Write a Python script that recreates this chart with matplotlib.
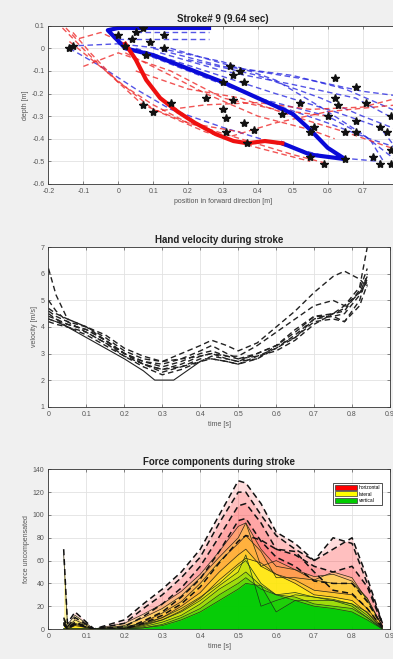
import numpy as np
import matplotlib
matplotlib.use("Agg")
import matplotlib.pyplot as plt
from matplotlib.patches import Patch

plt.rcParams['font.family'] = ['Liberation Sans', 'DejaVu Sans']
plt.rcParams['axes.unicode_minus'] = False

# ---------- stroke path (top) ----------
red_x = [0.02, 0.05, 0.08, 0.12, 0.17, 0.22, 0.28, 0.33, 0.37, 0.42, 0.47]
red_y = [0.02, -0.05, -0.14, -0.22, -0.28, -0.33, -0.38, -0.41, -0.42, -0.41, -0.42]
blue_x = [0.47, 0.55, 0.65, 0.60, 0.55, 0.50, 0.40, 0.30, 0.20, 0.10, 0.02, -0.03, 0.00, 0.10, 0.26]
blue_y = [-0.42, -0.47, -0.49, -0.44, -0.36, -0.29, -0.22, -0.15, -0.09, -0.03, 0.00, 0.08, 0.09, 0.09, 0.09]

blue_dash = [
    ([0.10, 0.30, 0.50, 0.65, 0.80], [0.00, -0.08, -0.12, -0.18, -0.28]),
    ([0.12, 0.30, 0.50, 0.68, 0.80], [-0.02, -0.10, -0.16, -0.22, -0.32]),
    ([0.05, 0.25, 0.45, 0.62, 0.75, 0.80], [0.00, -0.10, -0.20, -0.28, -0.35, -0.45]),
    ([0.00, 0.20, 0.40, 0.60, 0.72, 0.76], [0.02, -0.10, -0.22, -0.30, -0.40, -0.50]),
    ([0.15, 0.35, 0.55, 0.70, 0.80], [0.00, -0.09, -0.14, -0.19, -0.21]),
    ([-0.14, -0.05, 0.05, 0.15, 0.30, 0.45, 0.60, 0.75], [0.00, -0.08, -0.18, -0.27, -0.35, -0.42, -0.48, -0.50]),
    ([-0.14, 0.00, 0.12, 0.30, 0.45, 0.58, 0.70, 0.80], [0.01, 0.02, 0.00, -0.06, -0.14, -0.26, -0.38, -0.50]),
    ([0.05, 0.26], [0.07, 0.07]),
    ([0.00, 0.26], [0.04, 0.04]),
    ([0.30, 0.45, 0.60, 0.72, 0.80], [-0.15, -0.25, -0.33, -0.40, -0.44]),
    ([0.20, 0.40, 0.58, 0.70, 0.80], [-0.05, -0.12, -0.22, -0.30, -0.36]),
]
red_dash = [
    ([-0.16, -0.05, 0.07, 0.20, 0.35, 0.50, 0.60], [0.09, -0.08, -0.25, -0.33, -0.40, -0.47, -0.51]),
    ([-0.14, -0.02, 0.10, 0.25, 0.40, 0.55], [0.03, -0.12, -0.27, -0.37, -0.44, -0.50]),
    ([-0.13, -0.08, 0.00, 0.10, 0.20, 0.35], [0.07, -0.02, -0.15, -0.25, -0.33, -0.37]),
    ([0.10, 0.25, 0.40, 0.55, 0.70, 0.80], [-0.28, -0.25, -0.24, -0.27, -0.26, -0.22]),
    ([0.05, 0.20, 0.35, 0.50, 0.65, 0.80], [-0.10, -0.18, -0.22, -0.30, -0.37, -0.45]),
    ([0.30, 0.45, 0.60, 0.80], [-0.40, -0.33, -0.28, -0.25]),
    ([-0.10, 0.00, 0.15, 0.30, 0.45, 0.60], [-0.08, -0.02, -0.10, -0.22, -0.27, -0.30]),
    ([-0.15, -0.12, -0.05, 0.02], [0.09, 0.04, 0.07, 0.02]),
    ([0.02, 0.15, 0.25, 0.40, 0.55, 0.62], [-0.02, -0.12, -0.20, -0.30, -0.36, -0.40]),
]
star_x = [-0.14, -0.13, 0.00, 0.05, 0.07, 0.13, 0.04, 0.09, 0.13, 0.02, 0.08, 0.32, 0.33, 0.35,
          0.36, 0.30, 0.62, 0.68, 0.07, 0.10, 0.15, 0.25, 0.33, 0.30, 0.31, 0.36, 0.39, 0.31,
          0.37, 0.47, 0.52, 0.55, 0.56, 0.62, 0.63, 0.60, 0.65, 0.68, 0.68, 0.71, 0.75, 0.77,
          0.78, 0.78, 0.73, 0.75, 0.78, 0.59, 0.55, 0.65]
star_y = [0.00, 0.01, 0.06, 0.07, 0.09, 0.06, 0.04, 0.03, 0.00, 0.01, -0.03, -0.08, -0.12, -0.10,
          -0.15, -0.15, -0.13, -0.17, -0.25, -0.28, -0.24, -0.22, -0.23, -0.27, -0.31, -0.33, -0.36, -0.37,
          -0.42, -0.29, -0.24, -0.37, -0.35, -0.22, -0.25, -0.30, -0.37, -0.32, -0.37, -0.24, -0.35, -0.37,
          -0.30, -0.45, -0.48, -0.51, -0.51, -0.51, -0.48, -0.49]

# ---------- hand velocity (middle) ----------
vel_t = [0, 0.02, 0.05, 0.1, 0.15, 0.2, 0.25, 0.3, 0.35, 0.4, 0.43, 0.47, 0.5, 0.55, 0.6, 0.65, 0.7, 0.75, 0.78, 0.82, 0.84]
vel_dashed = [
    [6.2, 5.2, 4.3, 4.0, 3.5, 3.0, 2.7, 2.6, 2.8, 3.1, 3.3, 3.0, 2.8, 3.0, 3.3, 3.8, 4.4, 4.5, 4.8, 5.5, 7.0],
    [4.6, 4.4, 4.2, 4.0, 3.6, 3.1, 2.8, 2.7, 3.0, 3.3, 3.5, 3.3, 3.1, 3.4, 4.0, 4.6, 5.3, 5.9, 6.1, 5.8, 5.5],
    [4.4, 4.3, 4.1, 3.9, 3.5, 3.0, 2.7, 2.5, 2.7, 3.0, 3.1, 2.9, 2.9, 3.3, 3.8, 4.3, 4.8, 5.0, 4.8, 5.3, 5.9],
    [5.0, 4.6, 4.2, 3.8, 3.4, 3.0, 2.6, 2.4, 2.6, 2.9, 3.0, 2.8, 2.7, 3.0, 3.3, 3.9, 4.4, 4.4, 4.5, 5.2, 5.8],
    [4.3, 4.2, 4.1, 3.9, 3.5, 3.0, 2.6, 2.3, 2.5, 2.8, 2.8, 2.7, 2.6, 2.8, 3.2, 3.7, 4.3, 4.4, 4.2, 5.0, 6.0],
    [4.7, 4.5, 4.3, 4.0, 3.7, 3.2, 2.9, 2.7, 2.8, 2.9, 3.0, 2.9, 2.8, 2.9, 3.1, 3.5, 4.1, 4.5, 4.7, 5.3, 5.7],
    [4.5, 4.3, 4.0, 3.7, 3.3, 2.9, 2.5, 2.2, 2.4, 2.7, 2.8, 2.7, 2.6, 2.9, 3.2, 3.6, 4.2, 4.3, 4.2, 4.8, 5.6],
    [4.2, 4.1, 4.0, 3.8, 3.4, 2.9, 2.6, 2.4, 2.5, 2.7, 2.9, 2.8, 2.7, 2.8, 3.3, 3.6, 4.3, 4.5, 4.6, 5.4, 6.2],
]
vel_solid_t = [0, 0.02, 0.05, 0.1, 0.15, 0.2, 0.25, 0.28, 0.33, 0.36, 0.4]
vel_solid = [4.3, 4.2, 4.0, 3.6, 3.2, 2.8, 2.35, 2.0, 2.0, 2.3, 2.7]

# ---------- force components (bottom) ----------
frc_t = [0.04, 0.05, 0.07, 0.12, 0.2, 0.25, 0.3, 0.35, 0.4, 0.45, 0.5, 0.52, 0.56, 0.6, 0.65, 0.7, 0.75, 0.8, 0.84, 0.88]
frc_vert = [
    [0, 0, 0, 0, 2, 5, 10, 18, 28, 40, 55, 60, 40, 30, 32, 28, 25, 20, 10, 0],
    [0, 0, 0, 0, 1, 4, 8, 15, 25, 38, 50, 65, 20, 25, 30, 28, 26, 22, 12, 0],
    [0, 0, 0, 0, 0, 2, 6, 12, 22, 35, 45, 50, 38, 15, 25, 25, 25, 22, 15, 0],
    [0, 0, 0, 0, 0, 1, 4, 10, 18, 30, 40, 45, 35, 30, 28, 22, 20, 18, 10, 0],
    [0, 0, 0, 0, 0, 1, 3, 8, 15, 25, 35, 40, 38, 30, 25, 20, 18, 15, 8, 0],
]
frc_lat = [
    [65, 4, 12, 0, 3, 8, 12, 15, 20, 28, 35, 33, 30, 25, 20, 15, 25, 25, 15, 3],
    [8, 2, 8, 0, 2, 6, 10, 14, 20, 25, 30, 28, 35, 35, 22, 18, 22, 20, 15, 2],
    [5, 1, 5, 0, 1, 4, 8, 12, 18, 24, 30, 32, 30, 30, 20, 18, 15, 18, 12, 2],
    [4, 0, 4, 0, 0, 3, 6, 10, 14, 20, 25, 25, 20, 18, 15, 12, 12, 12, 8, 1],
    [3, 0, 3, 0, 0, 2, 5, 8, 12, 18, 22, 22, 20, 18, 15, 10, 10, 10, 6, 1],
]
frc_horz = [
    [5, 1, 3, 0, 3, 9, 13, 17, 22, 32, 40, 35, 40, 30, 23, 17, 30, 30, 15, 2],
    [2, 0, 2, 0, 2, 8, 12, 16, 18, 30, 40, 27, 45, 22, 18, 14, 22, 38, 18, 3],
    [1, 0, 1, 0, 1, 5, 8, 12, 15, 22, 33, 28, 25, 25, 20, 12, 10, 15, 10, 2],
    [1, 0, 1, 0, 0, 3, 5, 8, 12, 18, 30, 27, 22, 15, 12, 8, 8, 10, 6, 1],
    [1, 0, 1, 0, 0, 2, 4, 6, 10, 15, 20, 20, 20, 22, 28, 20, 6, 6, 4, 0],
]

tick_col = '#555555'
grid_col = '#e2e2e2'


def style(ax):
    ax.set_facecolor('white')
    ax.grid(True, color=grid_col, lw=0.6)
    ax.set_axisbelow(True)
    ax.tick_params(direction='in', length=2, width=0.5, labelsize=5, colors=tick_col,
                   top=True, right=True, pad=3)
    for s in ax.spines.values():
        s.set_color('#333333')
        s.set_linewidth(0.6)


def lbl(v):
    s = ('%.1f' % v).rstrip('0').rstrip('.')
    return '0' if s in ('-0', '') else s


fig = plt.figure(figsize=(3.93, 6.59), dpi=100)
fig.patch.set_facecolor('#f0f0f0')

# top
ax1 = fig.add_axes([0.1234, 0.7208, 0.888, 0.2402])
style(ax1)
dash = (0, (4, 2.5))
for x, y in blue_dash:
    ax1.plot(x, y, color='#2a2ae0', lw=1.0, ls=dash, alpha=0.8)
for x, y in red_dash:
    ax1.plot(x, y, color='#ee2a2a', lw=1.0, ls=dash, alpha=0.8)
ax1.plot(blue_x, blue_y, color='#0a0ad8', lw=3)
ax1.plot(red_x, red_y, color='#ee1010', lw=3)
ax1.plot(star_x, star_y, ls='none', marker='*', color='#111111', ms=6)
ax1.set_xlim(-0.2, 0.8)
ax1.set_ylim(-0.6, 0.1)
xt1 = [-0.2, -0.1, 0, 0.1, 0.2, 0.3, 0.4, 0.5, 0.6, 0.7, 0.8]
yt1 = [-0.6, -0.5, -0.4, -0.3, -0.2, -0.1, 0, 0.1]
ax1.set_xticks(xt1, [lbl(v) for v in xt1])
ax1.set_yticks(yt1, [lbl(v) for v in yt1])
ax1.set_title('Stroke# 9 (9.64 sec)', fontsize=7, fontweight='bold', color='#222222', pad=3)
ax1.set_xlabel('position in forward direction [m]', fontsize=5, color=tick_col, labelpad=2)
ax1.set_ylabel('depth [m]', fontsize=5, color=tick_col, labelpad=2)

# middle
ax2 = fig.add_axes([0.1234, 0.3829, 0.869, 0.2419])
style(ax2)
for v in vel_dashed:
    ax2.plot(vel_t, v, color='#222222', lw=1.0, ls=dash)
ax2.plot(vel_solid_t, vel_solid, color='#222222', lw=0.8)
ax2.set_xlim(0, 0.9)
ax2.set_ylim(1, 7)
xt2 = [0, 0.1, 0.2, 0.3, 0.4, 0.5, 0.6, 0.7, 0.8, 0.9]
ax2.set_xticks(xt2, [lbl(v) for v in xt2])
ax2.set_yticks(range(1, 8))
ax2.set_title('Hand velocity during stroke', fontsize=7, fontweight='bold', color='#222222', pad=3)
ax2.set_xlabel('time [s]', fontsize=5, color=tick_col, labelpad=2)
ax2.set_ylabel('velocity [m/s]', fontsize=5, color=tick_col, labelpad=2)

# bottom
ax3 = fig.add_axes([0.1234, 0.0455, 0.869, 0.2423])
style(ax3)
t = np.array(frc_t)
for vv, ll, hh in zip(frc_vert, frc_lat, frc_horz):
    vv, ll, hh = np.array(vv), np.array(ll), np.array(hh)
    ax3.fill_between(t, 0, vv, color='#00cc00', alpha=0.5, lw=0)
    ax3.fill_between(t, vv, vv + ll, color='#ffe600', alpha=0.35, lw=0)
    ax3.fill_between(t, vv + ll, vv + ll + hh, color='#ff3030', alpha=0.17, lw=0)
    ax3.plot(t, vv, color='#1a3a1a', lw=0.5)
    ax3.plot(t, vv + ll, color='#2a2a10', lw=0.5)
    ax3.plot(t, vv + ll + hh, color='#111111', lw=1.1, ls=dash)
ax3.set_xlim(0, 0.9)
ax3.set_ylim(0, 140)
ax3.set_xticks(xt2, [lbl(v) for v in xt2])
ax3.set_yticks(range(0, 141, 20))
ax3.set_title('Force components during stroke', fontsize=7, fontweight='bold', color='#222222', pad=3)
ax3.set_xlabel('time [s]', fontsize=5, color=tick_col, labelpad=2)
ax3.set_ylabel('force uncompensated', fontsize=5, color=tick_col, labelpad=2)
handles = [Patch(facecolor='#ff0000', edgecolor='#333333', lw=0.5),
           Patch(facecolor='#ffff00', edgecolor='#333333', lw=0.5),
           Patch(facecolor='#00cc00', edgecolor='#333333', lw=0.5)]
leg = ax3.legend(handles, ['horizontal', 'lateral', 'vertical'], loc='upper right',
                 bbox_to_anchor=(0.985, 0.93), fontsize=3.5, handlelength=4.5, handleheight=1.2,
                 borderpad=0.4, labelspacing=0.3, handletextpad=0.4, fancybox=False,
                 framealpha=1, edgecolor='#333333')
leg.get_frame().set_linewidth(0.6)

fig.savefig('out.png', dpi=100, facecolor=fig.get_facecolor())
